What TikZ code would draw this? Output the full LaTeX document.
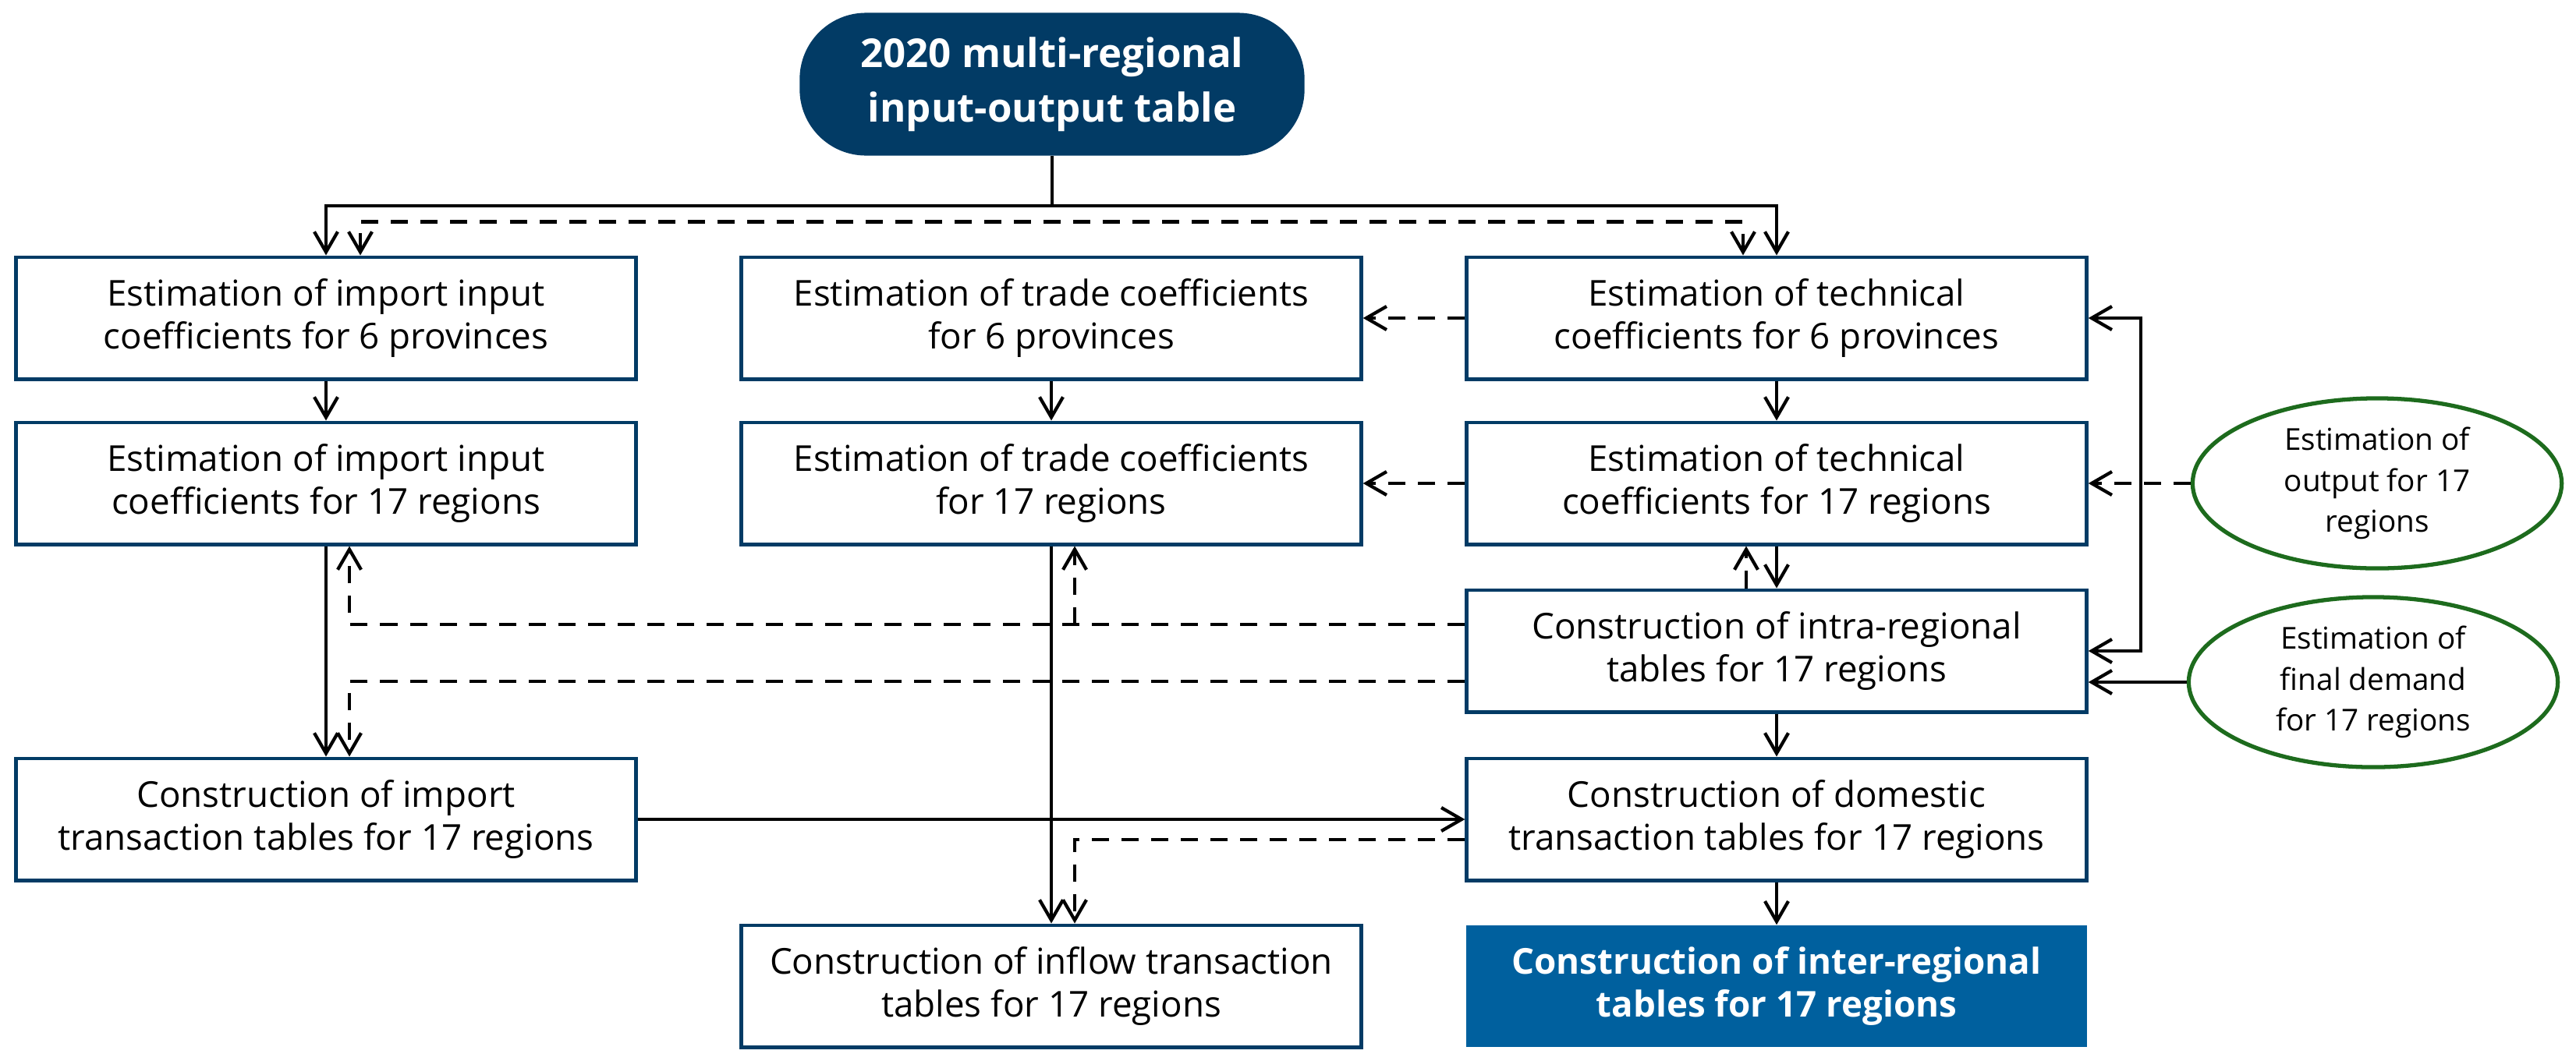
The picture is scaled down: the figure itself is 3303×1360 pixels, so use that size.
\documentclass[tikz,border=0pt]{standalone}
\usepackage{fontspec}
\setmainfont{Open Sans}
\usetikzlibrary{arrows.meta,shapes.geometric,calc}
\definecolor{navy}{HTML}{023B65}
\definecolor{boxblue}{HTML}{00609E}
\definecolor{ellgreen}{HTML}{1D6B1D}
\begin{document}
\begin{tikzpicture}[x=0.01cm,y=-0.01cm,
  >={Straight Barb[length=0.26cm,width=0.3cm]},
  box/.style={draw=navy, line width=1.4pt, fill=white, minimum width=7.94cm, minimum height=1.56cm, align=center, font=\fontsize{13}{15.5}\selectfont, inner sep=0pt},
  finbox/.style={fill=boxblue, minimum width=7.95cm, minimum height=1.56cm, align=center, text=white, font=\fontsize{13}{15.5}\selectfont\bfseries, inner sep=0pt},
  topnode/.style={fill=navy, rounded corners=0.85cm, minimum width=6.47cm, minimum height=1.83cm, align=center, text=white, font=\fontsize{14.5}{20}\selectfont\bfseries, inner sep=0pt},
  ell/.style={draw=ellgreen, line width=1.5pt, ellipse, minimum width=4.73cm, minimum height=2.18cm, align=center, font=\fontsize{11}{15}\selectfont, inner sep=0pt},
  ln/.style={line width=1.2pt},
  dsh/.style={line width=1.2pt, dash pattern=on 0.22cm off 0.16cm}
]
\useasboundingbox (0,0) rectangle (3303,1360);

\node[topnode] (top) at (1349,108) {2020 multi-regional\\input-output table};

\node[box] (b1) at (418,408) {Estimation of import input\\coefficients for 6 provinces};
\node[box] (b2) at (1348,408) {Estimation of trade coefficients\\for 6 provinces};
\node[box] (b3) at (2278,408) {Estimation of technical\\coefficients for 6 provinces};
\node[box] (b4) at (418,620) {Estimation of import input\\coefficients for 17 regions};
\node[box] (b5) at (1348,620) {Estimation of trade coefficients\\for 17 regions};
\node[box] (b6) at (2278,620) {Estimation of technical\\coefficients for 17 regions};
\node[box] (intra) at (2278,835) {Construction of intra-regional\\tables for 17 regions};
\node[box] (imp) at (418,1051) {Construction of import\\transaction tables for 17 regions};
\node[box] (dom) at (2278,1051) {Construction of domestic\\transaction tables for 17 regions};
\node[box] (inf) at (1348,1265) {Construction of inflow transaction\\tables for 17 regions};
\node[finbox] (fin) at (2278,1265) {Construction of inter-regional\\tables for 17 regions};

\node[ell] (out) at (3048,620) {Estimation of\\output for 17\\regions};
\node[ell] (fd) at (3043,875) {Estimation of\\final demand\\for 17 regions};

% from top table
\coordinate (jt) at ($(top.south)+(0,64)$);
\draw[ln] (top.south) -- (jt);
\draw[ln,->] (jt) -| (b1.north);
\draw[ln,->] (jt) -| (b3.north);
\draw[dsh,<->] ([xshift=0.44cm]b1.north) -- ++(0,-43) -| ([xshift=-0.43cm]b3.north);

% vertical flows
\draw[ln,->] (b1.south) -- (b4.north);
\draw[ln,->] (b2.south) -- (b5.north);
\draw[ln,->] (b3.south) -- (b6.north);
\draw[ln,->] (b4.south) -- (imp.north);
\draw[ln,->] (b5.south) -- (inf.north);
\draw[ln,->] (b6.south) -- (intra.north);
\draw[dsh,->] ([xshift=-0.39cm]intra.north) -- ([xshift=-0.39cm]b6.south);
\draw[ln,->] (intra.south) -- (dom.north);
\draw[ln,->] (dom.south) -- (fin.north);

% leftward dashed
\draw[dsh,->] (b3.west) -- (b2.east);
\draw[dsh,->] (b6.west) -- (b5.east);

% right side
\draw[ln,<->] (b3.east) -- ++(67,0) |- (intra.east);
\draw[dsh,->] (out.west) -- (b6.east);
\draw[ln,->] (fd.west) -- (intra.east |- fd.west);

% dashed from intra-regional tables
\coordinate (d1) at ([yshift=0.34cm]intra.west);
\coordinate (d2) at ([yshift=-0.39cm]intra.west);
\draw[dsh,->] (d1) -| ([xshift=0.3cm]b4.south);
\draw[dsh,->] ([xshift=0.3cm]b5.south |- d1) -- ([xshift=0.3cm]b5.south);
\draw[dsh,->] (d2) -| ([xshift=0.3cm]imp.north);

% import -> domestic, domestic -> inflow
\draw[ln,->] (imp.east) -- (dom.west);
\draw[dsh,->] ([yshift=-0.26cm]dom.west) -| ([xshift=0.3cm]inf.north);
\end{tikzpicture}
\end{document}
